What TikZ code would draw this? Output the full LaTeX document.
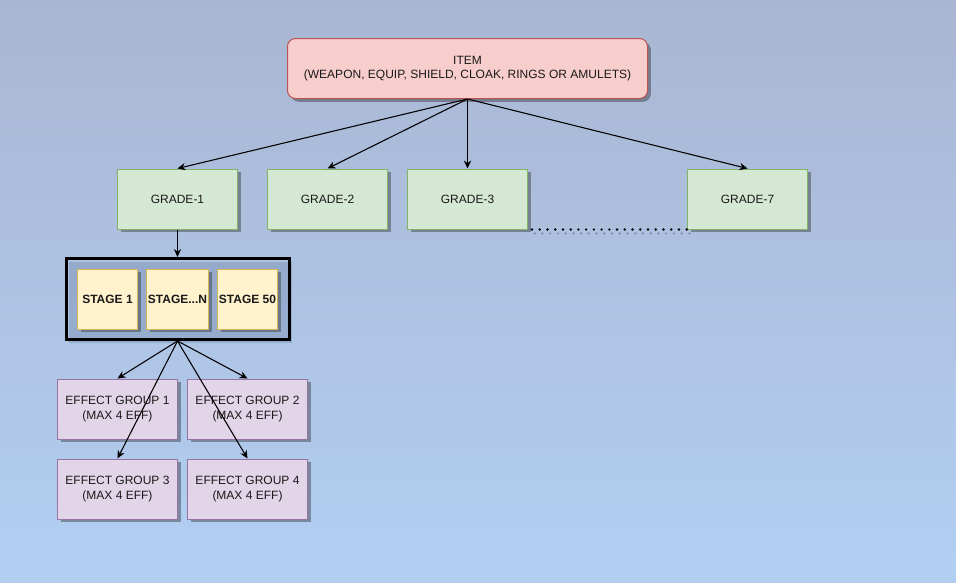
\documentclass[tikz,border=0pt]{standalone}
\usepackage{fontspec}
\setmainfont{Liberation Sans}
\usetikzlibrary{arrows.meta,shadows,fit,backgrounds}

\definecolor{itemfill}{HTML}{F8CECC}
\definecolor{itemline}{HTML}{B85450}
\definecolor{gradefill}{HTML}{D5E8D4}
\definecolor{gradeline}{HTML}{82B366}
\definecolor{stagefill}{HTML}{FFF2CC}
\definecolor{stageline}{HTML}{D6B656}
\definecolor{effectfill}{HTML}{E1D5E7}
\definecolor{effectline}{HTML}{9673A6}
\definecolor{skytop}{HTML}{A9B6D2}
\definecolor{skymid}{HTML}{84A8E0}
\definecolor{skybot}{HTML}{B2CFF2}
\definecolor{skyshadow}{HTML}{2A3F6A}

\tikzset{
  shade box/.style={drop shadow={shadow xshift=2.5pt,shadow yshift=-2.5pt,opacity=0.4,fill=black!85}},
  box/.style={rectangle,shade box,text=black!90,font=\fontsize{9}{11}\selectfont,align=center,line width=0.75pt},
  itembox/.style={box,rounded corners=6pt,fill=itemfill,draw=itemline,minimum width=270pt,minimum height=45pt},
  gradebox/.style={box,fill=gradefill,draw=gradeline,minimum width=90pt,minimum height=45pt},
  stagebox/.style={box,fill=stagefill,draw=stageline,minimum width=45pt,minimum height=45pt,inner sep=1pt,font=\fontsize{9}{11}\selectfont\bfseries},
  effectbox/.style={box,fill=effectfill,draw=effectline,minimum width=90pt,minimum height=45pt},
  link/.style={line width=0.8pt,-{Stealth[length=6pt,width=5.5pt]}},
  dots/.style={line width=2pt,line cap=round,dash pattern=on 0pt off 5.8pt}
}

\begin{document}
\begin{tikzpicture}[x=0.75pt,y=-0.75pt]
        \useasboundingbox (0,0) rectangle (956,582);
        % top item
        \node[itembox] (item) at (467.5,68.5) {ITEM\\(WEAPON, EQUIP, SHIELD, CLOAK, RINGS OR AMULETS)};
        % grades
        \node[gradebox] (g1) at (177.5,199) {GRADE-1};
        \node[gradebox] (g2) at (327.5,199) {GRADE-2};
        \node[gradebox] (g3) at (467.5,199) {GRADE-3};
        \node[gradebox] (g7) at (747.5,199) {GRADE-7};
        \draw[dots,black!70,opacity=0.4] ([xshift=5pt,yshift=-3pt]g3.south east) -- ([xshift=3pt,yshift=-3pt]g7.south west);
        \draw[dots,black] ([xshift=3pt]g3.south east) -- (g7.south west);
        % stages
        \node[stagebox] (s1) at (107.5,299) {STAGE 1};
        \node[stagebox] (sn) at (177.5,299) {STAGE...N};
        \node[stagebox] (s50) at (247.5,299) {STAGE 50};
        \begin{scope}[on background layer]
          \shade[top color=skytop,middle color=skymid,bottom color=skybot] (0,0) rectangle (956,582);
          \node[draw=black,line width=2.25pt,drop shadow={shadow xshift=2.5pt,shadow yshift=-2.5pt,opacity=0.18,fill=skyshadow},
                inner xsep=8.25pt,inner ysep=7.5pt,fit=(s1)(s50)] (stages) {};
        \end{scope}
        % effect groups
        \node[effectbox] (e1) at (117.5,409) {EFFECT GROUP 1\\(MAX 4 EFF)};
        \node[effectbox] (e2) at (247.5,409) {EFFECT GROUP 2\\(MAX 4 EFF)};
        \node[effectbox] (e3) at (117.5,489) {EFFECT GROUP 3\\(MAX 4 EFF)};
        \node[effectbox] (e4) at (247.5,489) {EFFECT GROUP 4\\(MAX 4 EFF)};
        % links
        \foreach \g in {g1,g2,g3,g7}
          \draw[link] (item.south) -- (\g.north);
        \draw[link] (g1.south) -- (stages.north);
        \foreach \e in {e1,e2,e3,e4}
          \draw[link] (stages.south) -- (\e.north);
      \end{tikzpicture}
\end{document}
